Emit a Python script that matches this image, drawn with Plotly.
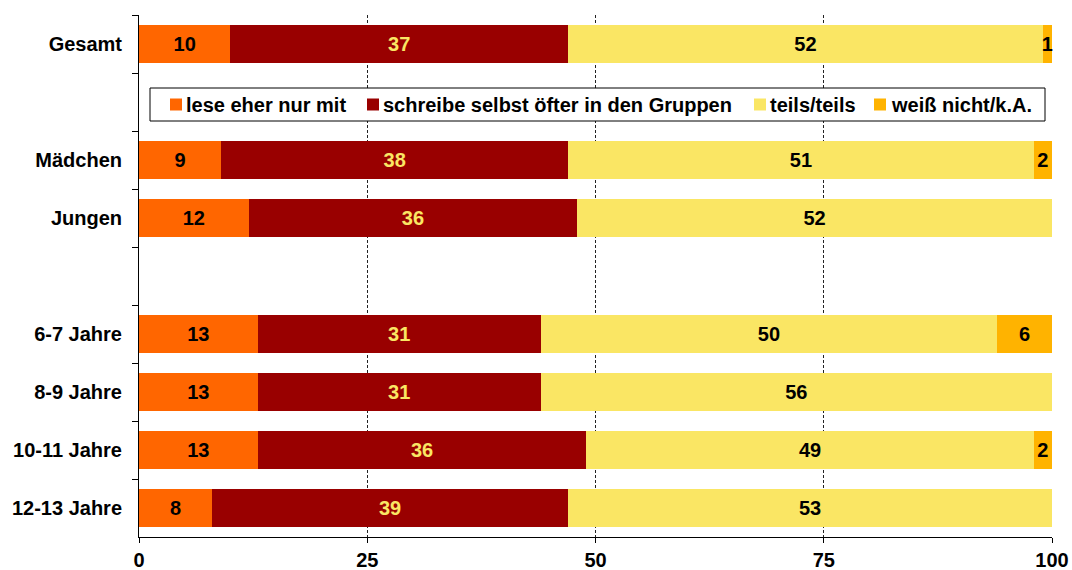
import plotly.graph_objects as go

# Row groups (a blank row separates consecutive groups)
groups = [
    ["Gesamt"],
    ["Mädchen", "Jungen"],
    ["6-7 Jahre", "8-9 Jahre", "10-11 Jahre", "12-13 Jahre"],
]

series_names = [
    "lese eher nur mit",
    "schreibe selbst öfter in den Gruppen",
    "teils/teils",
    "weiß nicht/k.A.",
]

# Percent values per row, in the order of the rows in `groups`
lese_mit = [10, 9, 12, 13, 13, 13, 8]
schreibe_selbst = [37, 38, 36, 31, 31, 36, 39]
teils_teils = [52, 51, 52, 50, 56, 49, 53]
weiss_nicht = [1, 2, 1, 6, 0, 2, 0]

x_ticks = [0, 25, 50, 75, 100]

series_values = [lese_mit, schreibe_selbst, teils_teils, weiss_nicht]
bar_colors = ["#FF6600", "#990000", "#FAE664", "#FFB300"]
label_colors = ["#000000", "#FAE664", "#000000", "#000000"]

rows = [r for g in groups for r in g]

# Category order with blank spacer slots between groups
category_order = []
for i, g in enumerate(groups):
    if i > 0:
        category_order.append(" " * i)
    category_order.extend(g)

FONT = "Liberation Sans, Arial, sans-serif"
FS = 20

W, H = 1072, 570
ML, MR, MT, MB = 139, 20, 15, 33
PW, PH = W - ML - MR, H - MT - MB


def px_x(px):
    return (px - ML) / PW


def px_y(py):
    return (H - MB - py) / PH


fig = go.Figure()
for name, vals, color, lcolor in zip(series_names, series_values, bar_colors, label_colors):
    fig.add_trace(go.Bar(
        y=rows,
        x=vals,
        name=name,
        orientation="h",
        marker=dict(color=color, line=dict(width=0)),
        text=[str(v) if v else "" for v in vals],
        textposition="inside",
        insidetextanchor="middle",
        textangle=0,
        insidetextfont=dict(family=FONT, size=FS, color=lcolor, weight="bold"),
        cliponaxis=False,
        hoverinfo="skip",
        showlegend=False,
    ))

# Legend box drawn inside the blank row under "Gesamt"
legend_box = dict(x0=150, x1=1045, y0=88, y1=121)
legend_marker_left = [170, 367, 754, 874]
legend_text_left = [185, 382, 769, 890]
marker_size = 12
legend_mid = (legend_box["y0"] + legend_box["y1"]) / 2

shapes = [dict(
    type="rect", xref="paper", yref="paper",
    x0=px_x(legend_box["x0"]), x1=px_x(legend_box["x1"]),
    y0=px_y(legend_box["y1"]), y1=px_y(legend_box["y0"]),
    line=dict(color="black", width=1), fillcolor="white", layer="above",
)]
annotations = []
for name, color, mx, tx in zip(series_names, bar_colors, legend_marker_left, legend_text_left):
    shapes.append(dict(
        type="rect", xref="paper", yref="paper",
        x0=px_x(mx), x1=px_x(mx + marker_size),
        y0=px_y(legend_mid + marker_size / 2), y1=px_y(legend_mid - marker_size / 2),
        line=dict(width=0), fillcolor=color, layer="above",
    ))
    annotations.append(dict(
        xref="paper", yref="paper",
        x=px_x(tx), y=px_y(legend_mid),
        xanchor="left", yanchor="middle",
        text=name, showarrow=False, borderpad=0,
        font=dict(family=FONT, size=FS, color="black", weight="bold"),
    ))

fig.update_layout(
    barmode="stack",
    bargap=0.36,
    width=W,
    height=H,
    margin=dict(l=ML, r=MR, t=MT, b=MB),
    paper_bgcolor="white",
    plot_bgcolor="white",
    font=dict(family=FONT, size=FS, color="black", weight="bold"),
    uniformtext=dict(mode="show", minsize=FS),
    showlegend=False,
    shapes=shapes,
    annotations=annotations,
    xaxis=dict(
        range=[0, 100],
        tickvals=x_ticks,
        ticks="outside",
        ticklen=5,
        tickcolor="black",
        showline=True,
        linecolor="black",
        linewidth=1,
        zeroline=False,
        showgrid=True,
        gridcolor="#222222",
        gridwidth=1,
        griddash="3px,2px",
        tickfont=dict(family=FONT, size=FS, weight="bold"),
        automargin=False,
        fixedrange=True,
    ),
    yaxis=dict(
        type="category",
        categoryorder="array",
        categoryarray=category_order,
        autorange="reversed",
        tickson="boundaries",
        ticks="outside",
        ticklen=6,
        tickcolor="black",
        showline=True,
        linecolor="black",
        linewidth=1,
        showgrid=False,
        zeroline=False,
        ticklabelstandoff=12,
        tickfont=dict(family=FONT, size=FS, weight="bold"),
        automargin=False,
        fixedrange=True,
    ),
)

fig.write_html("out.html")
